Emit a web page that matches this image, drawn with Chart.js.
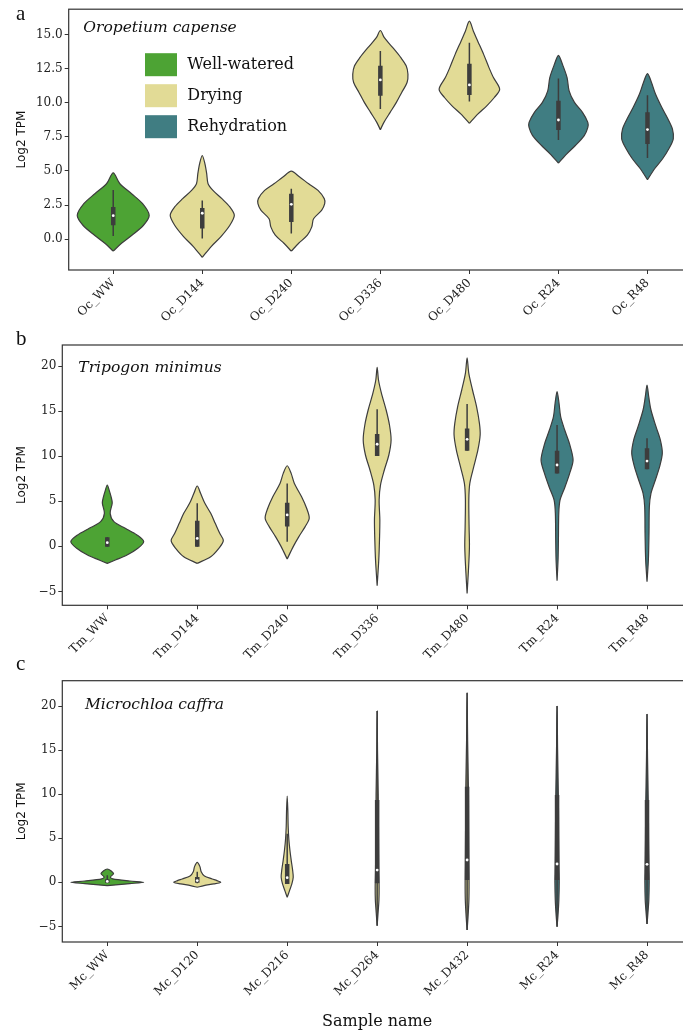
<!DOCTYPE html>
<html>
<head>
<meta charset="utf-8">
<script src="https://cdn.jsdelivr.net/npm/chart.js@4.4.1/dist/chart.umd.min.js"></script>
<style>
  html, body { margin: 0; padding: 0; background: #fff; overflow: hidden; width: 683px; height: 1034px; }
  canvas { position: absolute; left: 0; }
</style>
</head>
<body>
<canvas id="panelA" width="700" height="325" style="top:0px"></canvas>
<canvas id="panelB" width="700" height="350" style="top:325px"></canvas>
<canvas id="panelC" width="700" height="379" style="top:655px"></canvas>
<script>
// stages and colours
const stageNames = ['Well-watered', 'Drying', 'Rehydration'];
const sampleStage = [0, 1, 1, 1, 1, 2, 2];
const stageColors = ['#4da334', '#e2db96', '#407d82'];
const OUTLINE = '#3d3d3d';

// ---- panel a: Oropetium capense ----
const ocSamples = ['Oc_WW', 'Oc_D144', 'Oc_D240', 'Oc_D336', 'Oc_D480', 'Oc_R24', 'Oc_R48'];
// violin outline per sample, bottom to top: [log2 TPM, half width]
const ocDensity = [
  [[-0.88, 0], [-0.32, 0.09], [0.29, 0.21], [1.02, 0.34], [1.75, 0.404], [2.60, 0.33], [3.33, 0.206], [4.06, 0.075], [4.86, 0]],
  [[-1.34, 0], [-0.54, 0.10], [0.19, 0.21], [1.02, 0.31], [1.75, 0.36], [2.36, 0.31], [2.97, 0.22], [3.57, 0.12], [4.06, 0.065], [4.79, 0.05], [5.52, 0.03], [6.13, 0]],
  [[-0.88, 0], [-0.32, 0.08], [0.29, 0.18], [0.90, 0.23], [1.5, 0.25], [2.11, 0.34], [2.60, 0.375], [2.97, 0.37], [3.57, 0.30], [4.06, 0.195], [4.55, 0.094], [4.98, 0]],
  [[8.02, 0], [8.56, 0.04], [9.29, 0.11], [10.02, 0.18], [10.75, 0.24], [11.48, 0.30], [12.08, 0.31], [12.7, 0.29], [13.3, 0.23], [14.03, 0.14], [14.76, 0.045], [15.29, 0]],
  [[8.49, 0], [9.16, 0.094], [9.77, 0.195], [10.38, 0.28], [10.99, 0.34], [11.84, 0.27], [12.57, 0.22], [13.54, 0.16], [14.51, 0.094], [15.24, 0.045], [15.97, 0]],
  [[5.57, 0], [6.25, 0.094], [6.86, 0.19], [7.59, 0.29], [8.19, 0.33], [8.56, 0.33], [9.29, 0.27], [10.02, 0.18], [10.87, 0.12], [11.84, 0.097], [12.81, 0.045], [13.47, 0]],
  [[4.35, 0], [5.16, 0.08], [5.89, 0.17], [6.62, 0.24], [7.35, 0.29], [8.08, 0.28], [8.81, 0.23], [9.66, 0.16], [10.63, 0.09], [11.48, 0.045], [12.13, 0]]
];
const ocLow = [0.24, 0.05, 0.41, 9.53, 10.09, 7.27, 5.94];
const ocQ1 = [1.02, 0.78, 1.26, 10.5, 10.57, 7.99, 6.98];
const ocMedian = [1.72, 1.9, 2.55, 11.67, 11.3, 8.73, 8.03];
const ocQ3 = [2.36, 2.29, 3.33, 12.7, 12.86, 10.14, 9.29];
const ocHigh = [3.6, 2.84, 3.69, 13.79, 14.39, 11.77, 10.55];

// ---- panel b: Tripogon minimus ----
const tmSamples = ['Tm_WW', 'Tm_D144', 'Tm_D240', 'Tm_D336', 'Tm_D480', 'Tm_R24', 'Tm_R48'];
const tmDensity = [
  [[-1.89, 0], [-1.52, 0.09], [-0.97, 0.22], [-0.22, 0.34], [0.52, 0.405], [1.26, 0.33], [2.0, 0.20], [2.74, 0.074], [3.66, 0.032], [4.8, 0.055], [5.51, 0.042], [6.1, 0.025], [6.8, 0]],
  [[-1.89, 0], [-1.15, 0.15], [-0.22, 0.24], [0.63, 0.29], [1.44, 0.25], [2.55, 0.20], [3.66, 0.15], [4.77, 0.085], [5.88, 0.037], [6.69, 0]],
  [[-1.41, 0], [-0.03, 0.067], [1.08, 0.13], [2.19, 0.20], [3.11, 0.245], [4.25, 0.215], [5.5, 0.16], [6.98, 0.08], [8.09, 0.044], [8.94, 0]],
  [[-4.37, 0], [-1.51, 0.018], [0.71, 0.026], [2.92, 0.03], [5.14, 0.022], [6.8, 0.037], [8.47, 0.08], [10.13, 0.13], [11.8, 0.155], [13.46, 0.137], [15.12, 0.10], [16.97, 0.048], [18.45, 0.015], [19.85, 0]],
  [[-5.22, 0], [-2.63, 0.015], [-0.04, 0.026], [2.18, 0.022], [5.14, 0.019], [6.98, 0.03], [8.83, 0.074], [10.69, 0.12], [12.35, 0.145], [13.64, 0.137], [15.49, 0.105], [17.34, 0.06], [19.19, 0.019], [20.9, 0]],
  [[-3.81, 0], [-1.52, 0.011], [0.7, 0.015], [3.66, 0.019], [5.14, 0.033], [6.61, 0.089], [8.09, 0.14], [9.57, 0.178], [11.42, 0.137], [12.9, 0.085], [14.38, 0.04], [15.86, 0.022], [17.15, 0]],
  [[-3.92, 0], [-1.52, 0.015], [1.44, 0.022], [4.4, 0.026], [5.88, 0.044], [7.36, 0.093], [8.84, 0.14], [10.32, 0.17], [11.8, 0.148], [13.27, 0.10], [15.12, 0.044], [16.6, 0.019], [17.89, 0]]
];
const tmLow = [-0.04, -0.04, 0.51, 10.02, 10.61, 8.09, 8.54];
const tmQ1 = [-0.04, -0.04, 2.19, 10.02, 10.61, 8.09, 8.54];
const tmMedian = [0.41, 0.88, 3.48, 11.32, 11.87, 9.02, 9.46];
const tmQ3 = [1.0, 2.84, 4.84, 12.46, 13.08, 10.61, 10.87];
const tmHigh = [1.0, 4.77, 6.98, 15.2, 15.79, 13.46, 11.98];

// ---- panel c: Microchloa caffra ----
const mcSamples = ['Mc_WW', 'Mc_D120', 'Mc_D216', 'Mc_D264', 'Mc_D432', 'Mc_R24', 'Mc_R48'];
const mcDensity = [
  [[-0.37, 0], [-0.15, 0.25], [0.0, 0.405], [0.15, 0.25], [0.4, 0.06], [0.6, 0.035], [1.0, 0.07], [1.51, 0]],
  [[-0.56, 0], [-0.37, 0.074], [-0.18, 0.185], [0.0, 0.26], [0.19, 0.22], [0.38, 0.167], [0.72, 0.08], [1.21, 0.044], [1.78, 0.03], [2.26, 0]],
  [[-1.7, 0], [-0.94, 0.026], [-0.18, 0.052], [0.57, 0.067], [1.41, 0.06], [2.54, 0.044], [3.67, 0.03], [4.8, 0.019], [6.31, 0.011], [8.2, 0.007], [9.79, 0]],
  [[-4.92, 0], [-3.5, 0.01], [-2, 0.02], [-0.5, 0.022], [1.5, 0.018], [5, 0.015], [10, 0.012], [15, 0.004], [19.43, 0]],
  [[-5.41, 0], [-4, 0.01], [-2, 0.02], [0, 0.022], [2, 0.02], [6, 0.017], [11, 0.014], [16, 0.006], [21.5, 0]],
  [[-5.03, 0], [-3.8, 0.01], [-2, 0.02], [0, 0.024], [1.5, 0.022], [5, 0.018], [10, 0.014], [15, 0.006], [20.0, 0]],
  [[-4.73, 0], [-3.5, 0.01], [-2, 0.02], [0, 0.024], [1.5, 0.022], [5, 0.017], [9, 0.014], [14, 0.006], [19.09, 0]]
];
const mcLow = [-0.1, -0.1, -0.2, -4.92, -5.41, -5.03, -4.73];
const mcQ1 = [-0.05, -0.05, -0.2, -0.1, 0.26, 0.26, 0.26];
const mcMedian = [0.1, 0.2, 0.53, 1.39, 2.53, 2.08, 2.04];
const mcQ3 = [0.35, 0.6, 2.08, 9.33, 10.85, 9.9, 9.33];
const mcHigh = [0.8, 1.2, 5.5, 19.43, 21.5, 20.0, 19.09];

Chart.defaults.font.family = '"DejaVu Serif", serif';
Chart.defaults.font.size = 12;
Chart.defaults.color = '#222';

// one closed outline per violin, then whisker, box and median on top
function violinSets(density, low, q1, med, q3, high) {
    const sets = [];
    density.forEach((prof, i) => {
        const leftSide = prof.map(([v, w]) => ({x: i - w, y: v}));
        const rightSide = prof.slice().reverse().map(([v, w]) => ({x: i + w, y: v}));
        sets.push({
            data: leftSide.concat(rightSide.slice(1)),
            fill: 'shape',
            backgroundColor: stageColors[sampleStage[i]],
            borderColor: OUTLINE,
            borderWidth: 1.2,
            tension: 0.3,
            pointRadius: 0,
            order: 3
        });
        sets.push({
            data: [{x: i, y: low[i]}, {x: i, y: high[i]}],
            borderColor: OUTLINE, borderWidth: 1.5, pointRadius: 0, order: 2
        });
        sets.push({
            data: [{x: i, y: q1[i]}, {x: i, y: q3[i]}],
            borderColor: OUTLINE, borderWidth: 4.5, borderCapStyle: 'butt', pointRadius: 0, order: 1
        });
        sets.push({
            data: [{x: i, y: med[i]}],
            showLine: false, pointRadius: 1.4, pointBackgroundColor: '#ffffff', pointBorderWidth: 0, order: 0
        });
    });
    return sets;
}

// frame, species name, panel letter and the legend
const notes = {
    id: 'notes',
    afterDraw(chart, args, opts) {
        const {ctx, chartArea: a} = chart;
        ctx.save();
        ctx.strokeStyle = '#333';
        ctx.lineWidth = 1.2;
        ctx.strokeRect(a.left, a.top, a.right - a.left, a.bottom - a.top);
        ctx.fillStyle = '#111';
        ctx.textBaseline = 'alphabetic';
        ctx.font = '21px "Liberation Serif", serif';
        ctx.fillText(opts.letter, 16, opts.letterY);
        ctx.textBaseline = 'middle';
        ctx.font = 'italic 15.5px "DejaVu Serif", serif';
        ctx.fillText(opts.species, a.left + opts.dx, a.top + opts.dy);
        if (opts.legend) {
            ctx.font = '16px "DejaVu Serif", serif';
            stageNames.forEach((name, k) => {
                const y = a.top + 44 + k * 31;
                ctx.fillStyle = stageColors[k];
                ctx.fillRect(a.left + 76.3, y, 32, 23);
                ctx.fillStyle = '#111';
                ctx.fillText(name, a.left + 118.6, y + 12);
            });
        }
        ctx.restore();
    }
};

function makeChart(canvasId, samples, sets, cfg) {
    return new Chart(document.getElementById(canvasId), {
        type: 'line',
        data: {datasets: sets},
        options: {
            responsive: false,
            animation: false,
            events: [],
            layout: {padding: {top: cfg.padTop, right: 8, left: 0, bottom: 0}},
            plugins: {
                legend: {display: false},
                tooltip: {enabled: false},
                notes: cfg.notes
            },
            scales: {
                x: {
                    type: 'linear',
                    min: -0.5,
                    max: 6.5,
                    afterFit: s => { s.height = cfg.xHeight; },
                    afterBuildTicks: s => { s.ticks = samples.map((_, i) => ({value: i})); },
                    ticks: {
                        callback: v => samples[v],
                        minRotation: 45,
                        maxRotation: 45,
                        autoSkip: false,
                        padding: 2
                    },
                    grid: {drawOnChartArea: false, tickLength: 4, color: '#333'},
                    border: {display: false},
                    title: cfg.xTitle
                        ? {display: true, text: cfg.xTitle, font: {size: 16}, color: '#111', padding: {bottom: 3}}
                        : {display: false}
                },
                y: {
                    min: cfg.yMin,
                    max: cfg.yMax,
                    afterFit: s => { s.width = cfg.yWidth; },
                    ticks: {
                        stepSize: cfg.step,
                        includeBounds: false,
                        padding: 2,
                        callback: v => (v < 0 ? '\u2212' : '') + Math.abs(v).toFixed(cfg.decimals)
                    },
                    grid: {drawOnChartArea: false, tickLength: 4, color: '#333'},
                    border: {display: false},
                    title: {
                        display: true,
                        text: 'Log2 TPM',
                        font: {family: '"DejaVu Sans", sans-serif', size: 12},
                        color: '#111',
                        padding: {top: 14.5}
                    }
                }
            }
        },
        plugins: [notes]
    });
}

makeChart('panelA', ocSamples, violinSets(ocDensity, ocLow, ocQ1, ocMedian, ocQ3, ocHigh), {
    padTop: 8, xHeight: 55, yWidth: 68.7, yMin: -2.26, yMax: 16.85, step: 2.5, decimals: 1,
    notes: {letter: 'a', letterY: 20, species: 'Oropetium capense', dx: 14.6, dy: 19, legend: true}
});
makeChart('panelB', tmSamples, violinSets(tmDensity, tmLow, tmQ1, tmMedian, tmQ3, tmHigh), {
    padTop: 20, xHeight: 69.7, yWidth: 62.3, yMin: -6.54, yMax: 22.33, step: 5, decimals: 0,
    notes: {letter: 'b', letterY: 20, species: 'Tripogon minimus', dx: 16, dy: 22.5, legend: false}
});
makeChart('panelC', mcSamples, violinSets(mcDensity, mcLow, mcQ1, mcMedian, mcQ3, mcHigh), {
    padTop: 25.7, xHeight: 92, yWidth: 62.3, yMin: -6.77, yMax: 22.87, step: 5, decimals: 0,
    xTitle: 'Sample name',
    notes: {letter: 'c', letterY: 15, species: 'Microchloa caffra', dx: 22.7, dy: 23.8, legend: false}
});
</script>
</body>
</html>
